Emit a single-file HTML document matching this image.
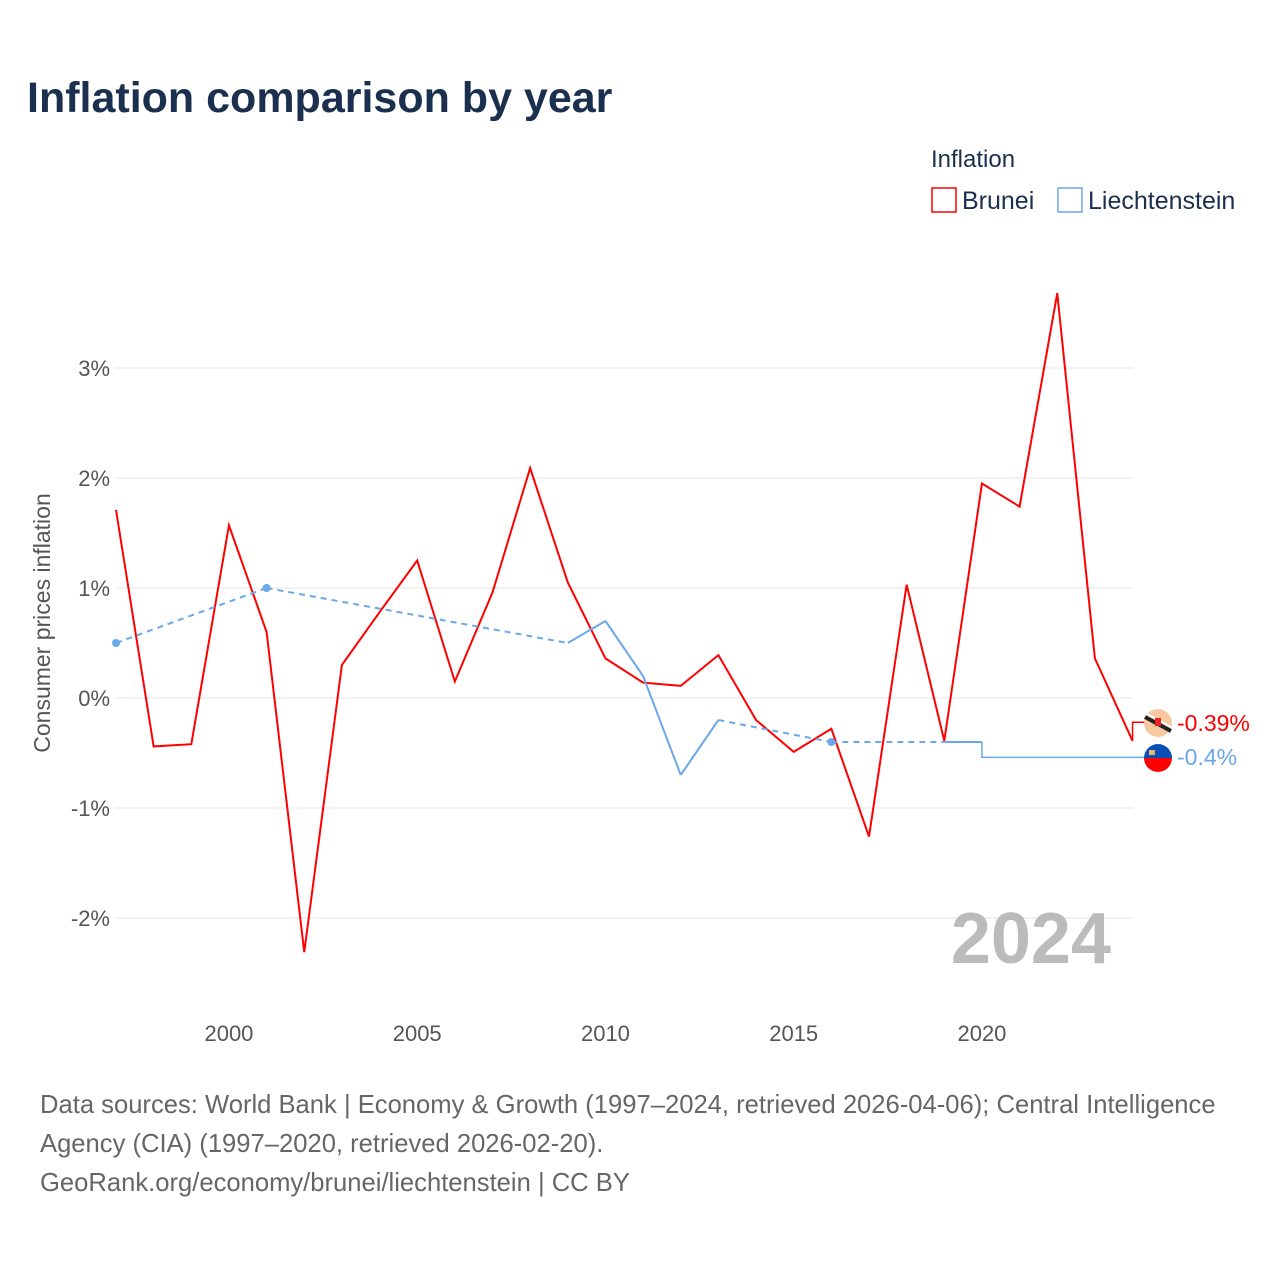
<!DOCTYPE html>
<html><head><meta charset="utf-8"><style>
body{margin:0;background:#fff;font-family:"Liberation Sans",sans-serif}
</style></head><body>
<svg id="c" width="1280" height="1280" xmlns="http://www.w3.org/2000/svg">
<text x="27" y="112" font-size="43" font-weight="bold" fill="#1b2f4e">Inflation comparison by year</text>
<text x="931" y="167" font-size="24" fill="#1b2f4e">Inflation</text>
<g><rect x="932" y="188" width="24" height="24" fill="none" stroke="#f00" stroke-width="1.5"/><text x="962" y="209" font-size="25" fill="#1b2f4e">Brunei</text></g>
<g><rect x="1058" y="188" width="24" height="24" fill="none" stroke="#6aa8ea" stroke-width="1.5"/><text x="1088" y="209" font-size="25" fill="#1b2f4e">Liechtenstein</text></g>
<g id="grid"></g><g id="marks"></g>
<text transform="translate(50,623) rotate(-90)" text-anchor="middle" font-size="23" fill="#555">Consumer prices inflation</text>
<text x="1111" y="963" text-anchor="end" font-size="72" font-weight="bold" fill="#bbb">2024</text>
<text font-size="25.6" fill="#666"><tspan x="40" y="1113">Data sources: World Bank | Economy &amp; Growth (1997–2024, retrieved 2026-04-06); Central Intelligence</tspan><tspan x="40" y="1152">Agency (CIA) (1997–2020, retrieved 2026-02-20).</tspan><tspan x="40" y="1191">GeoRank.org/economy/brunei/liechtenstein | CC BY</tspan></text>
</svg>
<script>
const years=[1997,1998,1999,2000,2001,2002,2003,2004,2005,2006,2007,2008,2009,2010,2011,2012,2013,2014,2015,2016,2017,2018,2019,2020,2021,2022,2023,2024];
const brunei=[1.71,-0.44,-0.42,1.57,0.6,-2.31,0.3,0.78,1.25,0.15,0.96,2.09,1.05,0.36,0.14,0.11,0.39,-0.2,-0.49,-0.28,-1.26,1.03,-0.39,1.95,1.74,3.68,0.36,-0.39];
const liYears=[1997,2001,2009,2010,2011,2012,2013,2016,2019,2020];
const liVals=[0.5,1.0,0.5,0.7,0.2,-0.7,-0.2,-0.4,-0.4,-0.4];
const liLatest=-0.54;
const yTicks=[-2,-1,0,1,2,3];
const xTicks=[2000,2005,2010,2015,2020];
const X=y=>116+(y-1997)*37.65, Y=v=>698-v*110;
const NS="http://www.w3.org/2000/svg";
const g=document.getElementById('grid'),m=document.getElementById('marks');
function mk(p,t,a){const e=document.createElementNS(NS,t);for(const k in a)e.setAttribute(k,a[k]);p.appendChild(e);return e;}
yTicks.forEach(v=>{
 const l=mk(g,'line',{x1:116,x2:1132,y1:Y(v),y2:Y(v),stroke:'#e4e4e4','stroke-width':1});
 
 
 const t=mk(g,'text',{x:110,y:Y(v)+8,'text-anchor':'end','font-size':22,fill:'#555'});t.textContent=v+'%';
 
 
});
xTicks.forEach(v=>{
 const t=mk(g,'text',{x:X(v),y:1041,'text-anchor':'middle','font-size':22,fill:'#555'});t.textContent=v;
 
 
});
const bp=mk(m,'polyline',{points:years.map((y,i)=>X(y)+','+Y(brunei[i])).join(' '),fill:'none',stroke:'#f00','stroke-width':2});


const dashedSeg=[true,true,false,false,false,false,true,true,false];
for(let i=0;i<liYears.length-1;i++){
 const s=mk(m,'line',{x1:X(liYears[i]),y1:Y(liVals[i]),x2:X(liYears[i+1]),y2:Y(liVals[i+1]),stroke:'#6aa8ea','stroke-width':2,'stroke-dasharray':dashedSeg[i]?'6,5':'none'});
 
 
}
const st=mk(m,'polyline',{points:`${X(2020)},${Y(liVals[liVals.length-1])} ${X(2020)},${Y(liLatest)} ${X(2024)+12},${Y(liLatest)}`,fill:'none',stroke:'#6aa8ea','stroke-width':1.5});


[1997,2001,2016].forEach(y=>{const i=liYears.indexOf(y);const c=mk(m,'circle',{cx:X(y),cy:Y(liVals[i]),r:4,fill:'#6aa8ea'});
 
 });
const bs=mk(m,'polyline',{points:`${X(2024)},${Y(-0.39)} ${X(2024)},${Y(-0.22)} ${X(2024)+12},${Y(-0.22)}`,fill:'none',stroke:'#f00','stroke-width':1.5});


</script>
<svg style="position:absolute;left:0;top:0" width="1280" height="1280">
<g><circle cx="1158" cy="723" r="14" fill="#f8c9a0"/><line x1="1145" y1="717" x2="1171" y2="731" stroke="#222" stroke-width="4"/><line x1="1145" y1="713" x2="1171" y2="727" stroke="#fff" stroke-width="2"/><rect x="1155" y="718" width="6" height="8" fill="#e22"/></g>
<text x="1177" y="731" font-size="23" fill="#f00">-0.39%</text>
<g><path d="M1144,758 A14,14 0 0 1 1172,758 Z" fill="#0a4fb8"/><path d="M1144,758 A14,14 0 0 0 1172,758 Z" fill="#f00"/><rect x="1149" y="750" width="6" height="5" fill="#e8b860"/></g>
<text x="1177" y="765" font-size="23" fill="#6aa8ea">-0.4%</text>
</svg>
</body></html>
